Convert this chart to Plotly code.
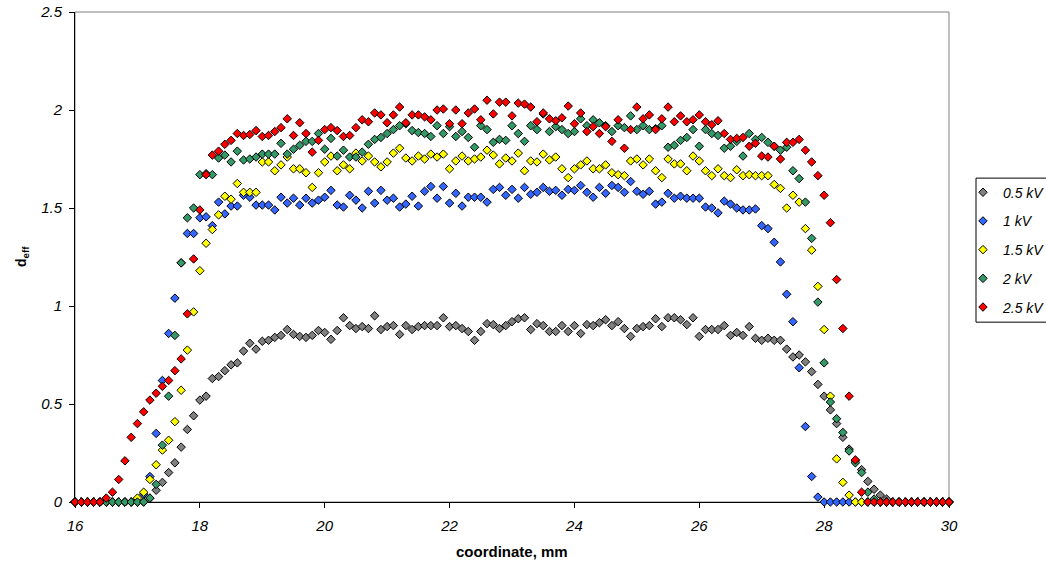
import plotly.graph_objects as go

# ---------------- data ----------------
coordinate_mm = [
    16.0, 16.1, 16.2, 16.3, 16.4, 16.5, 16.6, 16.7, 16.8, 16.9,
    17.0, 17.1, 17.2, 17.3, 17.4, 17.5, 17.6, 17.7, 17.8, 17.9,
    18.0, 18.1, 18.2, 18.3, 18.4, 18.5, 18.6, 18.7, 18.8, 18.9,
    19.0, 19.1, 19.2, 19.3, 19.4, 19.5, 19.6, 19.7, 19.8, 19.9,
    20.0, 20.1, 20.2, 20.3, 20.4, 20.5, 20.6, 20.7, 20.8, 20.9,
    21.0, 21.1, 21.2, 21.3, 21.4, 21.5, 21.6, 21.7, 21.8, 21.9,
    22.0, 22.1, 22.2, 22.3, 22.4, 22.5, 22.6, 22.7, 22.8, 22.9,
    23.0, 23.1, 23.2, 23.3, 23.4, 23.5, 23.6, 23.7, 23.8, 23.9,
    24.0, 24.1, 24.2, 24.3, 24.4, 24.5, 24.6, 24.7, 24.8, 24.9,
    25.0, 25.1, 25.2, 25.3, 25.4, 25.5, 25.6, 25.7, 25.8, 25.9,
    26.0, 26.1, 26.2, 26.3, 26.4, 26.5, 26.6, 26.7, 26.8, 26.9,
    27.0, 27.1, 27.2, 27.3, 27.4, 27.5, 27.6, 27.7, 27.8, 27.9,
    28.0, 28.1, 28.2, 28.3, 28.4, 28.5, 28.6, 28.7, 28.8, 28.9,
    29.0, 29.1, 29.2, 29.3, 29.4, 29.5, 29.6, 29.7, 29.8, 29.9,
    30.0,
]

d_0_5kV = [
    0, 0, 0, 0, 0, 0, 0, 0, 0, 0,
    0, 0, 0.02, 0.06, 0.10, 0.15, 0.20, 0.28, 0.37, 0.44,
    0.52, 0.54, 0.63, 0.64, 0.67, 0.70, 0.71, 0.77, 0.81, 0.78,
    0.82, 0.825, 0.84, 0.85, 0.88, 0.855, 0.845, 0.84, 0.85, 0.875,
    0.865, 0.83, 0.875, 0.94, 0.90, 0.885, 0.895, 0.885, 0.95, 0.88,
    0.895, 0.90, 0.855, 0.90, 0.88, 0.895, 0.90, 0.90, 0.90, 0.94,
    0.895, 0.90, 0.885, 0.87, 0.825, 0.87, 0.91, 0.905, 0.885, 0.90,
    0.92, 0.935, 0.94, 0.88, 0.91, 0.90, 0.87, 0.87, 0.90, 0.87,
    0.90, 0.86, 0.905, 0.90, 0.915, 0.93, 0.90, 0.92, 0.885, 0.845,
    0.885, 0.895, 0.90, 0.935, 0.895, 0.94, 0.94, 0.93, 0.905, 0.94,
    0.845, 0.88, 0.88, 0.88, 0.90, 0.85, 0.865, 0.85, 0.895, 0.835,
    0.825, 0.835, 0.825, 0.825, 0.78, 0.74, 0.75, 0.715, 0.665, 0.60,
    0.54, 0.47, 0.40, 0.33, 0.27, 0.21, 0.165, 0.105, 0.065, 0.035,
    0.015, 0, 0, 0, 0, 0, 0, 0, 0, 0,
    0,
]

d_1kV = [
    0, 0, 0, 0, 0, 0, 0, 0, 0, 0,
    0, 0.04, 0.13, 0.35, 0.62, 0.86, 1.04, 1.22, 1.37, 1.37,
    1.45, 1.455, 1.41, 1.53, 1.47, 1.51, 1.51, 1.565, 1.555, 1.515,
    1.515, 1.515, 1.49, 1.555, 1.525, 1.55, 1.515, 1.55, 1.525, 1.54,
    1.555, 1.59, 1.515, 1.505, 1.565, 1.54, 1.50, 1.585, 1.525, 1.59,
    1.54, 1.55, 1.505, 1.52, 1.56, 1.51, 1.585, 1.61, 1.55, 1.61,
    1.525, 1.575, 1.51, 1.555, 1.555, 1.555, 1.53, 1.595, 1.605, 1.565,
    1.595, 1.55, 1.605, 1.57, 1.58, 1.605, 1.585, 1.59, 1.565, 1.595,
    1.59, 1.615, 1.58, 1.555, 1.605, 1.575, 1.615, 1.605, 1.58, 1.635,
    1.585, 1.57, 1.585, 1.52, 1.53, 1.575, 1.55, 1.56, 1.55, 1.55,
    1.55, 1.505, 1.50, 1.475, 1.535, 1.52, 1.50, 1.49, 1.49, 1.495,
    1.41, 1.395, 1.325, 1.225, 1.06, 0.92, 0.685, 0.385, 0.13, 0.025,
    0, 0, 0, 0, 0, 0, 0, 0, 0, 0,
    0, 0, 0, 0, 0, 0, 0, 0, 0, 0,
    0,
]

d_1_5kV = [
    0, 0, 0, 0, 0, 0, 0, 0, 0, 0,
    0.02, 0.05, 0.115, 0.19, 0.265, 0.315, 0.41, 0.57, 0.775, 0.97,
    1.18, 1.32, 1.39, 1.465, 1.56, 1.545, 1.625, 1.58, 1.58, 1.58,
    1.735, 1.735, 1.69, 1.72, 1.76, 1.70, 1.70, 1.68, 1.605, 1.68,
    1.735, 1.765, 1.69, 1.72, 1.70, 1.78, 1.74, 1.765, 1.735, 1.71,
    1.735, 1.78, 1.805, 1.755, 1.74, 1.765, 1.75, 1.775, 1.76, 1.775,
    1.70, 1.74, 1.765, 1.74, 1.75, 1.76, 1.795, 1.77, 1.725, 1.755,
    1.74, 1.78, 1.69, 1.74, 1.735, 1.775, 1.745, 1.76, 1.70, 1.655,
    1.70, 1.72, 1.74, 1.70, 1.70, 1.72, 1.68, 1.67, 1.665, 1.74,
    1.75, 1.72, 1.75, 1.69, 1.655, 1.75, 1.725, 1.725, 1.69, 1.765,
    1.74, 1.69, 1.665, 1.70, 1.665, 1.655, 1.695, 1.665, 1.67, 1.665,
    1.665, 1.665, 1.62, 1.60, 1.50, 1.565, 1.53, 1.395, 1.285, 1.10,
    0.88, 0.54, 0.22, 0.10, 0.035, 0, 0, 0, 0, 0,
    0, 0, 0, 0, 0, 0, 0, 0, 0, 0,
    0,
]

d_2kV = [
    0, 0, 0, 0, 0, 0, 0, 0, 0, 0,
    0, 0, 0.02, 0.09, 0.29, 0.54, 0.85, 1.22, 1.45, 1.50,
    1.67, 1.675, 1.67, 1.755, 1.77, 1.735, 1.79, 1.745, 1.75, 1.76,
    1.775, 1.775, 1.775, 1.83, 1.775, 1.80, 1.82, 1.84, 1.84, 1.88,
    1.80, 1.855, 1.765, 1.795, 1.76, 1.76, 1.785, 1.825, 1.85, 1.86,
    1.88, 1.90, 1.92, 1.93, 1.895, 1.885, 1.88, 1.865, 1.92, 1.88,
    1.915, 1.865, 1.89, 1.86, 1.81, 1.92, 1.90, 1.835, 1.85, 1.845,
    1.92, 1.88, 1.84, 1.92, 1.90, 1.98, 1.89, 1.915, 1.90, 1.88,
    1.89, 1.955, 1.92, 1.95, 1.935, 1.92, 1.89, 1.92, 1.91, 1.97,
    1.90, 1.92, 1.90, 1.905, 1.92, 1.81, 1.82, 1.845, 1.86, 1.90,
    1.815, 1.90, 1.88, 1.87, 1.805, 1.815, 1.84, 1.765, 1.88, 1.85,
    1.86, 1.835, 1.815, 1.795, 1.81, 1.69, 1.65, 1.53, 1.345, 1.02,
    0.71, 0.51, 0.425, 0.355, 0.26, 0.20, 0.15, 0.05, 0.015, 0,
    0, 0, 0, 0, 0, 0, 0, 0, 0, 0,
    0,
]

d_2_5kV = [
    0, 0, 0, 0, 0, 0.02, 0.05, 0.115, 0.21, 0.33,
    0.40, 0.46, 0.52, 0.555, 0.59, 0.62, 0.67, 0.73, 0.96, 1.24,
    1.49, 1.67, 1.77, 1.79, 1.825, 1.845, 1.88, 1.87, 1.875, 1.895,
    1.865, 1.87, 1.89, 1.91, 1.955, 1.87, 1.935, 1.88, 1.785, 1.845,
    1.90, 1.91, 1.895, 1.865, 1.87, 1.91, 1.95, 1.94, 1.985, 1.975,
    1.935, 1.975, 2.015, 1.935, 1.975, 1.975, 1.965, 1.95, 2.00, 2.005,
    1.93, 2.00, 1.93, 1.985, 2.005, 1.95, 2.05, 1.98, 2.04, 2.04,
    1.97, 2.035, 2.03, 2.015, 1.94, 1.985, 1.955, 1.945, 1.96, 2.02,
    1.93, 1.985, 1.89, 1.915, 1.88, 1.915, 1.84, 1.95, 1.805, 1.90,
    2.015, 1.955, 1.975, 1.90, 1.955, 2.015, 1.94, 1.97, 1.94, 1.95,
    1.975, 1.94, 1.925, 1.945, 1.88, 1.85, 1.855, 1.86, 1.815, 1.83,
    1.765, 1.76, 1.815, 1.75, 1.835, 1.835, 1.85, 1.795, 1.735, 1.665,
    1.565, 1.425, 1.135, 0.885, 0.54, 0.215, 0.05, 0, 0, 0,
    0, 0, 0, 0, 0, 0, 0, 0, 0, 0,
    0,
]

series_names = ["0.5 kV", "1 kV", "1.5 kV", "2 kV", "2.5 kV"]
series_values = [d_0_5kV, d_1kV, d_1_5kV, d_2kV, d_2_5kV]
series_colors = ["#808080", "#3366FF", "#FFFF00", "#339966", "#FF0000"]

x_ticks = [16, 18, 20, 22, 24, 26, 28, 30]
y_ticks = [0, 0.5, 1, 1.5, 2, 2.5]

# ---------------- figure ----------------
FONT = "Liberation Sans, Arial, sans-serif"
fig = go.Figure()
for name, vals, col in zip(series_names, series_values, series_colors):
    fig.add_trace(go.Scatter(
        x=coordinate_mm, y=vals, mode="markers", name=name, legendgroup=name,
        cliponaxis=False,
        marker=dict(symbol="diamond", size=6.5, color=col,
                    line=dict(color="black", width=1)),
    ))

axis_common = dict(
    showgrid=False, zeroline=False, showline=True, linecolor="black", linewidth=1,
    ticks="outside", ticklen=5, tickcolor="black", tickwidth=1,
    tickfont=dict(family=FONT, size=15, color="black", style="italic"),
    automargin=False, layer="below traces",
)
fig.update_xaxes(range=[16, 30], tickvals=x_ticks, ticklabelstandoff=5, **axis_common)
fig.update_yaxes(range=[0, 2.5], tickvals=y_ticks, ticklabelstandoff=4, **axis_common)

fig.update_layout(
    width=1046, height=570,
    margin=dict(l=75, r=97, t=12, b=68, autoexpand=False),
    plot_bgcolor="white", paper_bgcolor="white",
    font=dict(family=FONT, color="black"),
    showlegend=True,
    legend=dict(
        x=1.016, xanchor="left", y=0.664, yanchor="top",
        bgcolor="rgba(0,0,0,0)", borderwidth=0,
        font=dict(family=FONT, size=14, color="black", style="italic"),
        tracegroupgap=7.5, itemwidth=30,
    ),
    shapes=[
        dict(type="rect", xref="paper", yref="paper", x0=0, x1=1, y0=0, y1=1,
             line=dict(color="#808080", width=1), layer="below"),
        dict(type="rect", xref="paper", yref="paper", x0=1.0309, x1=1.12,
             y0=0.367, y1=0.661, line=dict(color="black", width=1), layer="above"),
    ],
    annotations=[
        dict(text="<b>coordinate, mm</b>", xref="paper", yref="paper",
             x=0.5, y=-0.102, xanchor="center", yanchor="middle", showarrow=False,
             font=dict(family=FONT, size=15, color="black")),
        dict(text="<b>d<sub>eff</sub></b>", xref="paper", yref="paper",
             x=-0.0606, y=0.5, xanchor="center", yanchor="middle", showarrow=False,
             textangle=-90, font=dict(family=FONT, size=14, color="black")),
    ],
)

fig.write_html("out.html", config={"displayModeBar": False},
               post_script="document.body.style.margin='0';")
